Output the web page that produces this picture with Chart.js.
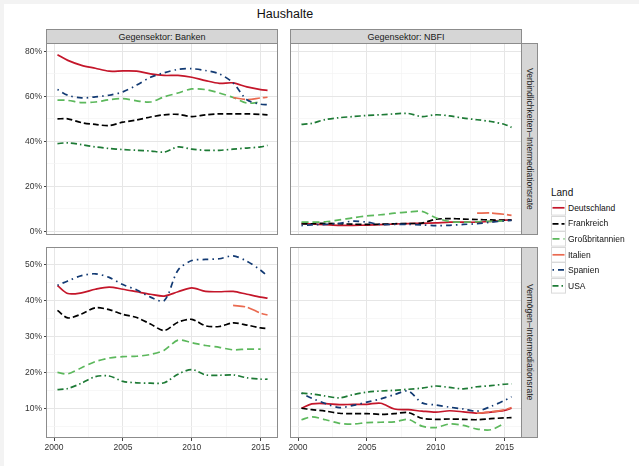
<!DOCTYPE html>
<html>
<head>
<meta charset="utf-8">
<script src="https://cdn.jsdelivr.net/npm/chart.js@4"></script>
<style>
  body { margin: 0; width: 639px; height: 466px; background: #f3f3f3; font-family: "Liberation Sans", Arial, sans-serif; position: relative; overflow: hidden; }
  #sheet { position: absolute; left: 4px; top: 4px; right: 0; bottom: 0; background: #fff; }
  .abs { position: absolute; }
  .panel canvas { display: block; }
  .strip { position: absolute; box-sizing: border-box; background: #d6d6d6; border: 1px solid #8c8c8c; color: #1a1a1a; font-size: 9px; display: flex; align-items: center; justify-content: center; white-space: nowrap; }
  .strip.side { writing-mode: vertical-rl; font-size: 8.5px; }
  #title { left: 200px; top: 7px; width: 170px; text-align: center; font-size: 12.5px; color: #111; }
  #legend { left: 551px; top: 185px; }
  #legend .ttl { font-size: 10px; color: #111; height: 15px; line-height: 15px; }
  #legend .row { display: flex; align-items: center; height: 15.6px; }
  #legend .row svg { display: block; margin-right: 2px; }
  #legend .row span { font-size: 8.5px; color: #111; }
</style>
</head>
<body>
<div id="sheet"></div>
<div id="title" class="abs">Haushalte</div>
<div class="strip" style="left:46px;top:29px;width:232px;height:15px">Gegensektor: Banken</div>
<div class="strip" style="left:290px;top:29px;width:232px;height:15px">Gegensektor: NBFI</div>
<div class="strip side" style="left:521px;top:43px;width:17px;height:192px">Verbindlichkeiten–Intermediationsrate</div>
<div class="strip side" style="left:521px;top:247px;width:17px;height:191px">Vermögen–Intermediationsrate</div>
<div id="panels"></div>
<div id="legend" class="abs"></div>

<script>
// x positions of the readings (years)
const YEARS = [2000.25, 2001, 2002, 2003, 2004, 2005, 2006, 2007, 2008, 2009, 2010, 2011, 2012, 2013, 2014, 2015, 2015.5];
const COUNTRIES = ['Deutschland', 'Frankreich', 'Großbritannien', 'Italien', 'Spanien', 'USA'];

// Gegensektor Banken, Verbindlichkeiten (%)
const deBankLiab = [78.5, 76, 73.8, 72.5, 71.2, 71.3, 71.2, 70, 69.3, 69.3, 68.5, 67, 65.8, 66, 64.2, 63, 62.7];
const frBankLiab = [50, 50, 48.3, 47.5, 47, 48.5, 49.5, 50.8, 51.8, 52, 51, 51.8, 52.2, 52.2, 52.2, 52, 51.8];
const gbBankLiab = [58.3, 58.2, 57.2, 57.5, 58.5, 59, 58, 57.5, 59.8, 61.5, 63.3, 63, 61.5, 59.5, 57, 57.5, null];
const itBankLiab = [null, null, null, null, null, null, null, null, null, null, null, null, null, 59.5, 58.6, 59.3, 59.6];
const esBankLiab = [63, 60.5, 59.3, 59.8, 60.5, 62, 65, 68.5, 70.5, 72, 72.3, 71.5, 70, 66, 58.5, 56.5, 56.3];
const usBankLiab = [39, 39.3, 38.5, 37.5, 36.8, 36.3, 36, 35.7, 35.2, 37.5, 36.5, 36, 36, 36.5, 37, 37.5, 38.2];

// Gegensektor NBFI, Verbindlichkeiten (%)
const deNbfiLiab = [3.5, 3.2, 2.9, 2.6, 2.6, 2.7, 2.9, 3.2, 3.4, 3.5, 3.7, 4, 4, 4, 4.4, 4.9, 5];
const frNbfiLiab = [3.2, 3.3, 3.5, 3.3, 3.1, 3, 3.1, 3.3, 3.4, 3.6, 5.3, 5.6, 5.4, 5.2, 5, 4.9, 4.9];
const gbNbfiLiab = [4, 4, 4.2, 5, 6, 6.8, 7.3, 8, 8.5, 8.8, 6, 4.3, 4, 4.2, 4.4, 4.6, null];
const itNbfiLiab = [null, null, null, null, null, null, null, null, null, null, null, null, null, 8, 8.1, 7.5, 7];
const esNbfiLiab = [2.5, 2.8, 3, 3.5, 4.5, 4, 3, 3, 3, 2.8, 2.5, 2.6, 3, 3.3, 4, 4.6, 4.8];
const usNbfiLiab = [47.5, 48, 49.7, 50.5, 51, 51.5, 51.8, 52.2, 52.4, 51, 51.8, 51.3, 50.3, 49.6, 48.8, 47.5, 46.2];

// Gegensektor Banken, Vermögen (%)
const deBankAsset = [44.2, 42, 42.2, 43.2, 43.8, 43.2, 42.5, 41.8, 41.3, 42.5, 43.6, 42.6, 42.5, 42.6, 41.8, 41, 40.7];
const frBankAsset = [37.3, 35.2, 36.3, 38, 37.5, 36.2, 35.3, 33.5, 31.7, 34, 34.8, 33, 32.8, 33.8, 33.2, 32.4, 32.2];
const gbBankAsset = [20, 19.6, 21.3, 23, 24, 24.4, 24.5, 25, 26.2, 29, 28.3, 27.5, 27, 26.3, 26.5, 26.5, null];
const itBankAsset = [null, null, null, null, null, null, null, null, null, null, null, null, null, 38.7, 38.2, 36.5, 36];
const esBankAsset = [44.3, 45.5, 47, 47.5, 46.5, 44.5, 43, 41, 40, 48.5, 51.2, 51.5, 51.7, 52.5, 51, 48.5, 46.8];
const usBankAsset = [15.2, 15.5, 17, 18.8, 19, 17.5, 17.1, 17, 17.1, 19.5, 20.8, 19.3, 19.2, 19.3, 18.5, 18.1, 18.1];

// Gegensektor NBFI, Vermögen (%)
const deNbfiAsset = [10, 11.2, 11.3, 11, 11.1, 11.1, 11.4, 9.8, 9.6, 9.2, 8.9, 9.3, 9, 8.6, 8.9, 9.4, 10];
const frNbfiAsset = [10, 9.6, 9.2, 8.6, 8.5, 8.5, 8.3, 8.5, 8.8, 7.2, 6.9, 7, 6.9, 6.8, 7.1, 7.3, 7.4];
const gbNbfiAsset = [6.8, 7.6, 6.8, 5.8, 5.6, 6, 6.1, 6.2, 6.9, 5, 4.6, 5.6, 5.2, 4.2, 4, 5.8, null];
const itNbfiAsset = [null, null, null, null, null, null, null, null, null, null, null, null, null, 8.6, 9, 9.6, 10.2];
const esNbfiAsset = [14.2, 12.8, 11.3, 10.2, 10.8, 11.7, 12.6, 13.8, 14.8, 11.5, 10.9, 10.3, 9.8, 9.2, 10.5, 12.2, 13.2];
const usNbfiAsset = [14.2, 14, 13.4, 12.9, 13.8, 14.5, 14.8, 15, 15.3, 15.6, 16.2, 15.8, 15.4, 16, 16.3, 16.7, 16.8];

// axes
const X_TICKS = [2000, 2002.5, 2005, 2007.5, 2010, 2012.5, 2015];
const X_RANGE = [1999.49, 2016.26];
const LIAB_TICKS = [0, 10, 20, 30, 40, 50, 60, 70, 80];
const LIAB_RANGE = [-1.7, 83.3];
const ASSET_TICKS = [5, 10, 15, 20, 25, 30, 35, 40, 45, 50];
const ASSET_RANGE = [1.7, 54.7];

// styles
const COLORS = ['#c4162a', '#000000', '#5cb85c', '#ea6a50', '#123a73', '#1d7a35'];
const DASHES = [[], [6, 3], [7, 4], [12, 3], [1.5, 4, 6, 4], [6, 3, 1.5, 3]];
const FONT = '"Liberation Sans", Arial, sans-serif';

const panels = [
  { rect: [47, 44, 278, 235], row: 0, col: 0, series: [deBankLiab, frBankLiab, gbBankLiab, itBankLiab, esBankLiab, usBankLiab] },
  { rect: [291, 44, 522, 235], row: 0, col: 1, series: [deNbfiLiab, frNbfiLiab, gbNbfiLiab, itNbfiLiab, esNbfiLiab, usNbfiLiab] },
  { rect: [47, 248, 278, 438], row: 1, col: 0, series: [deBankAsset, frBankAsset, gbBankAsset, itBankAsset, esBankAsset, usBankAsset] },
  { rect: [291, 248, 522, 438], row: 1, col: 1, series: [deNbfiAsset, frNbfiAsset, gbNbfiAsset, itNbfiAsset, esNbfiAsset, usNbfiAsset] },
];

const panelBorder = {
  id: 'panelBorder',
  afterDraw(chart) {
    const a = chart.chartArea, ctx = chart.ctx;
    ctx.save();
    ctx.strokeStyle = '#8c8c8c';
    ctx.lineWidth = 1;
    ctx.strokeRect(a.left - 0.5, a.top - 0.5, a.right - a.left, a.bottom - a.top);
    ctx.restore();
  }
};

const holder = document.getElementById('panels');
panels.forEach(p => {
  const [l, t, r, b] = p.rect;
  const left = p.col === 0 ? 0 : l - 10;
  const top = t - 10;
  const xAxisH = p.row === 1 ? 25 : 0;
  const w = r + 10 - left;
  const h = b - t + 10 + (p.row === 1 ? 25 : 10);
  const box = document.createElement('div');
  box.className = 'abs panel';
  box.style.left = left + 'px';
  box.style.top = top + 'px';
  const cv = document.createElement('canvas');
  cv.width = w; cv.height = h;
  box.appendChild(cv);
  holder.appendChild(box);

  const yTicks = p.row === 0 ? LIAB_TICKS : ASSET_TICKS;
  const yRange = p.row === 0 ? LIAB_RANGE : ASSET_RANGE;
  const yMajor = v => p.row === 0 ? v % 20 === 0 : v % 10 === 0;
  const xMajor = v => v % 5 === 0;

  // reverse so that USA ends up on top, as in the original
  const datasets = p.series.map((vals, i) => ({
    label: COUNTRIES[i],
    data: YEARS.map((x, k) => ({ x, y: vals[k] })).filter(d => d.y !== null),
    borderColor: COLORS[i],
    borderDash: DASHES[i],
    borderWidth: 1.7,
    pointRadius: 0,
    tension: 0.3,
    fill: false
  })).reverse();

  new Chart(cv, {
    type: 'line',
    data: { datasets },
    options: {
      responsive: false,
      animation: false,
      events: [],
      layout: { padding: { left: p.col === 0 ? 0 : 10, top: 10, right: 10, bottom: p.row === 1 ? 0 : 10 } },
      plugins: { legend: { display: false }, tooltip: { enabled: false } },
      scales: {
        x: {
          type: 'linear', min: X_RANGE[0], max: X_RANGE[1],
          afterBuildTicks: s => { s.ticks = X_TICKS.map(v => ({ value: v })); },
          afterFit: s => { s.height = xAxisH; },
          border: { display: false },
          grid: {
            color: c => xMajor(c.tick.value) ? '#e6e6e6' : '#f3f3f3',
            lineWidth: c => xMajor(c.tick.value) ? 1 : 0.7,
            drawTicks: p.row === 1, tickLength: 3,
            tickColor: c => xMajor(c.tick.value) ? '#444' : 'rgba(0,0,0,0)'
          },
          ticks: {
            display: p.row === 1, autoSkip: false, maxRotation: 0, padding: 2,
            color: '#333', font: { family: FONT, size: 8.5 },
            callback: v => xMajor(v) ? String(v) : ''
          }
        },
        y: {
          type: 'linear', min: yRange[0], max: yRange[1],
          afterBuildTicks: s => { s.ticks = yTicks.map(v => ({ value: v })); },
          afterFit: s => { s.width = p.col === 0 ? 47 : 0; },
          border: { display: false },
          grid: {
            color: c => yMajor(c.tick.value) ? '#e6e6e6' : '#f3f3f3',
            lineWidth: c => yMajor(c.tick.value) ? 1 : 0.7,
            drawTicks: p.col === 0, tickLength: 3,
            tickColor: c => yMajor(c.tick.value) ? '#444' : 'rgba(0,0,0,0)'
          },
          ticks: {
            display: p.col === 0, autoSkip: false, padding: 2,
            color: '#333', font: { family: FONT, size: 8.5 },
            callback: v => yMajor(v) ? v + '%' : ''
          }
        }
      }
    },
    plugins: [panelBorder]
  });
});

// legend, same styles as the lines
const legend = document.getElementById('legend');
legend.innerHTML = '<div class="ttl">Land</div>' + COUNTRIES.map((name, i) => `
  <div class="row">
    <svg width="15" height="15.6"><rect x="0.5" y="0.5" width="14" height="14.6" fill="#fff" stroke="#d9d9d9"/>
      <line x1="1.5" y1="7.8" x2="13.5" y2="7.8" stroke="${COLORS[i]}" stroke-width="1.7" stroke-dasharray="${DASHES[i].join(' ') || 'none'}"/></svg>
    <span>${name}</span>
  </div>`).join('');
</script>
</body>
</html>
